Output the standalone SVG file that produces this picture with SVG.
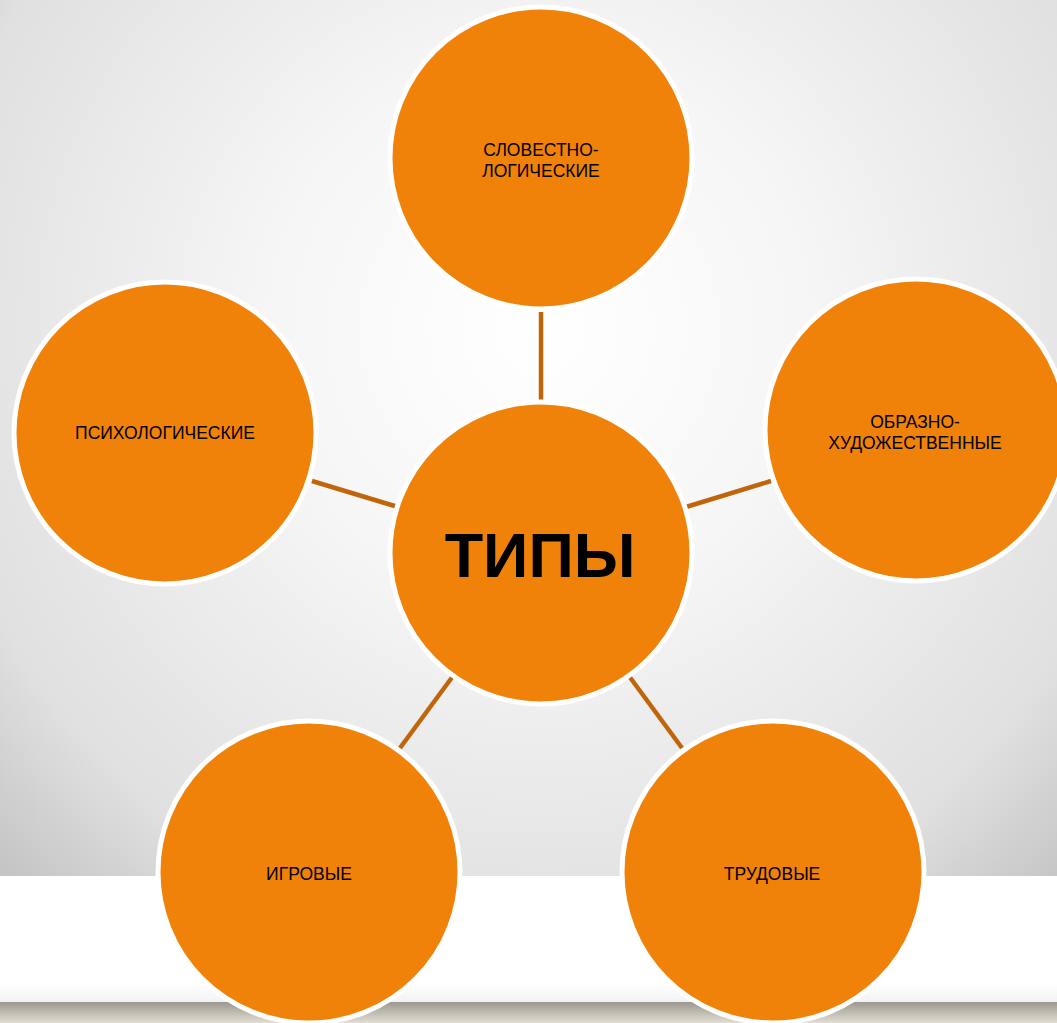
<svg xmlns="http://www.w3.org/2000/svg" width="1057" height="1023" viewBox="0 0 1057 1023">
  <defs>
    <radialGradient id="bg" gradientUnits="userSpaceOnUse" cx="540" cy="330" r="765">
      <stop offset="0" stop-color="#ffffff"/>
      <stop offset="0.35" stop-color="#f6f6f6"/>
      <stop offset="0.8" stop-color="#e0e0e0"/>
      <stop offset="1" stop-color="#c4c4c4"/>
    </radialGradient>
    <linearGradient id="band" x1="0" y1="0" x2="0" y2="1">
      <stop offset="0" stop-color="#ffffff"/>
      <stop offset="0.85" stop-color="#ffffff"/>
      <stop offset="1" stop-color="#f2f2f2"/>
    </linearGradient>
    <linearGradient id="shadow" x1="0" y1="0" x2="0" y2="1">
      <stop offset="0" stop-color="#9c9890"/>
      <stop offset="1" stop-color="#e2ded3"/>
    </linearGradient>
  </defs>
  <style>
    .node { fill: #F0820A; stroke: #ffffff; stroke-width: 5; }
    .lbl { font-family: "Liberation Sans", Arial, sans-serif; font-size: 17.5px; fill: #000000; text-anchor: middle; }
    .big { font-family: "Liberation Sans", Arial, sans-serif; font-size: 63px; font-weight: bold; fill: #000000; text-anchor: middle; }
    .conn { stroke: #C0650C; stroke-width: 4.5; fill: none; }
  </style>
  <rect x="0" y="0" width="1057" height="1023" fill="url(#bg)"/>
  <rect x="0" y="876" width="1057" height="127" fill="url(#band)"/>
  <rect x="0" y="1002" width="1057" height="21" fill="url(#shadow)"/>
  <g id="connectors">
    <line class="conn" x1="541" y1="312" x2="541" y2="403"/>
    <line class="conn" x1="312" y1="481" x2="398" y2="507"/>
    <line class="conn" x1="686" y1="507" x2="771" y2="481"/>
    <line class="conn" x1="453" y1="676" x2="400" y2="748"/>
    <line class="conn" x1="629" y1="676" x2="682" y2="748"/>
  </g>
  <g id="node-center">
    <circle class="node" cx="541" cy="553" r="151"/>
    <text class="big" x="540" y="577">ТИПЫ</text>
  </g>
  <g id="node-top">
    <circle class="node" cx="541" cy="158" r="151"/>
    <text class="lbl" x="541" y="156">СЛОВЕСТНО-</text>
    <text class="lbl" x="541" y="177">ЛОГИЧЕСКИЕ</text>
  </g>
  <g id="node-right">
    <circle class="node" cx="916" cy="430" r="151"/>
    <text class="lbl" x="915" y="428">ОБРАЗНО-</text>
    <text class="lbl" x="915" y="449">ХУДОЖЕСТВЕННЫЕ</text>
  </g>
  <g id="node-left">
    <circle class="node" cx="165" cy="433" r="151"/>
    <text class="lbl" x="165" y="439">ПСИХОЛОГИЧЕСКИЕ</text>
  </g>
  <g id="node-bottom-left">
    <circle class="node" cx="309" cy="872" r="151"/>
    <text class="lbl" x="309" y="880">ИГРОВЫЕ</text>
  </g>
  <g id="node-bottom-right">
    <circle class="node" cx="773" cy="872" r="151"/>
    <text class="lbl" x="772" y="880">ТРУДОВЫЕ</text>
  </g>
</svg>
